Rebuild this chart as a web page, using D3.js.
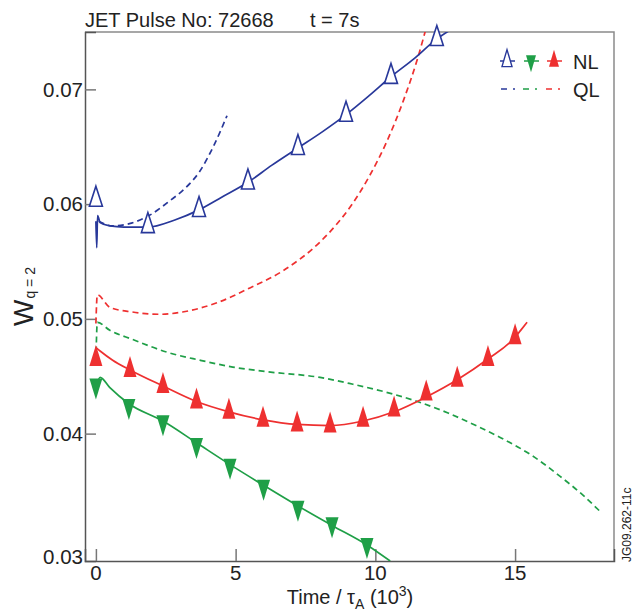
<!DOCTYPE html>
<html>
<head>
<meta charset="utf-8">
<script src="https://cdn.jsdelivr.net/npm/d3@7"></script>
<style>
  body { margin: 0; background: #fff; }
  svg { display: block; font-family: "Liberation Sans", Arial, sans-serif; }
</style>
</head>
<body>
<svg width="637" height="615"></svg>
<script>
// data: [time (10^3 tau_A), W_q=2]
var blueNL = [[0.0, 0.0585], [0.03, 0.0562], [0.06, 0.0590], [0.15, 0.0584], [0.5, 0.0581], [1.0, 0.0580],
  [1.86, 0.0580], [2.8, 0.0586], [3.69, 0.0595], [4.5, 0.0606], [5.44, 0.0619], [6.3, 0.0634], [7.23, 0.0649],
  [8.1, 0.0663], [8.95, 0.0678], [9.8, 0.0695], [10.56, 0.0711], [11.4, 0.0727], [12.2, 0.0744], [12.7, 0.0752]];
var blueMarkers = [[0, 0.0604], [1.86, 0.0581], [3.69, 0.0595], [5.44, 0.0619], [7.23, 0.0649], [8.95, 0.0678], [10.56, 0.0711], [12.2, 0.0744]];
var blueQL = [[0.1, 0.0585], [0.6, 0.0581], [1.2, 0.0583], [1.9, 0.0590], [2.65, 0.0603], [3.2, 0.0614], [3.7, 0.0628], [4.2, 0.0650], [4.69, 0.0677]];

var redNL = [[0.0, 0.0475], [0.15, 0.0472], [0.6, 0.0464], [1.22, 0.04555], [2.4, 0.04415], [3.6, 0.0428], [4.76, 0.0419],
  [5.98, 0.0412], [7.2, 0.0408], [8.38, 0.0407], [9.56, 0.0411], [10.67, 0.0419], [11.82, 0.0432], [12.93, 0.0447],
  [14.03, 0.0465], [15.0, 0.0484], [15.2, 0.0490], [15.43, 0.0497]];
var redMarkers = [[0, 0.0465], [1.22, 0.04555], [2.4, 0.04415], [3.6, 0.0428], [4.76, 0.0419], [5.98, 0.0412], [7.2, 0.0408],
  [8.38, 0.0407], [9.56, 0.0412], [10.67, 0.0421], [11.82, 0.0435], [12.93, 0.0447], [14.03, 0.0465], [15.0, 0.0484]];
var redQL = [[0.0, 0.0496], [0.05, 0.0521], [0.5, 0.0510], [1.3, 0.0506], [2.3, 0.0504], [3.1, 0.0506], [4.33, 0.0514],
  [5.51, 0.0527], [6.7, 0.0542], [8.02, 0.0567], [8.6, 0.0582], [9.2, 0.0601], [9.8, 0.0625], [10.4, 0.0654],
  [11.0, 0.0690], [11.5, 0.0726], [11.9, 0.0761]];

var greenNL = [[0.0, 0.0440], [0.15, 0.0449], [0.5, 0.0440], [1.18, 0.0426], [2.4, 0.0411], [3.6, 0.0392], [4.8, 0.0373],
  [6.0, 0.0355], [7.23, 0.0337], [8.45, 0.0320], [9.7, 0.0303], [10.53, 0.0289]];
var greenMarkers = [[0, 0.0442], [1.18, 0.0424], [2.4, 0.0410], [3.6, 0.0390], [4.8, 0.0372], [6.0, 0.03536],
  [7.23, 0.03353], [8.45, 0.0321], [9.7, 0.0303]];
var greenQL = [[0.0, 0.0462], [0.05, 0.0497], [0.5, 0.0490], [1.32, 0.0482], [2.54, 0.0471], [3.72, 0.0464], [4.9, 0.0458],
  [6.1, 0.0454], [8.02, 0.0449], [9.2, 0.0443], [10.4, 0.0436], [11.5, 0.0428], [12.6, 0.0418], [13.6, 0.0407],
  [14.6, 0.0395], [15.6, 0.0381], [16.6, 0.0363], [17.4, 0.0347], [18.05, 0.0332]];

var xTicks = [0, 5, 10, 15];
var yTicks = [0.03, 0.04, 0.05, 0.06, 0.07];

var blue = "#28389a", green = "#1f9f47", red = "#ee3030";

var svg = d3.select("svg");
var pLeft = 85, pRight = 614, pTop = 32, pBottom = 561;

var x = d3.scaleLinear().domain([-0.39, 18.54]).range([pLeft, pRight]);
var y = d3.scaleLinear().domain([0.0289, 0.0750]).range([pBottom, pTop]);

// clip for the curves (markers may stick out)
svg.append("defs").append("clipPath").attr("id", "plot")
  .append("rect").attr("x", pLeft).attr("y", pTop).attr("width", pRight - pLeft).attr("height", pBottom - pTop);

// frame: top and right in light grey
svg.append("path")
  .attr("d", "M" + pLeft + "," + pTop + "H" + pRight + "V" + pBottom)
  .attr("fill", "none").attr("stroke", "#8a8a8a").attr("stroke-width", 1.5);

// axes
var yAxis = d3.axisLeft(y).tickValues(yTicks.filter(function (v) { return v > 0.035; }))
  .tickSize(-11).tickFormat("");
svg.append("g").attr("transform", "translate(" + pLeft + ",0)").call(yAxis)
  .call(function (g) {
    g.select(".domain").attr("stroke", "#555").attr("stroke-width", 1.5);
    g.selectAll(".tick line").attr("stroke", "#777").attr("stroke-width", 1.5);
  });
var xAxis = d3.axisBottom(x).tickValues(xTicks).tickSize(-12).tickFormat("");
svg.append("g").attr("transform", "translate(0," + pBottom + ")").call(xAxis)
  .call(function (g) {
    g.select(".domain").attr("stroke", "#555").attr("stroke-width", 1.5);
    g.selectAll(".tick line").attr("stroke", "#777").attr("stroke-width", 1.5);
  });

// tick labels (the lowest one sits in the corner)
svg.append("g").selectAll("text").data(yTicks).enter().append("text")
  .attr("x", pLeft - 2)
  .attr("y", function (d) { return y(d) > pBottom - 20 ? pBottom - 4 : y(d); })
  .attr("dy", "0.35em")
  .attr("text-anchor", "end")
  .attr("font-size", 20.5)
  .attr("fill", "#222")
  .text(function (d) { return d3.format(".2f")(d); });

svg.append("g").selectAll("text").data(xTicks).enter().append("text")
  .attr("x", function (d) { return x(d); })
  .attr("y", 580)
  .attr("text-anchor", "middle")
  .attr("font-size", 20.5)
  .attr("fill", "#222")
  .text(function (d) { return d; });

// title
svg.append("text").attr("x", 85).attr("y", 27).attr("font-size", 20).attr("fill", "#222")
  .text("JET Pulse No: 72668");
svg.append("text").attr("x", 310).attr("y", 27).attr("font-size", 20).attr("fill", "#222")
  .text("t = 7s");

// axis titles
var xt = svg.append("text").attr("x", 350).attr("y", 604).attr("text-anchor", "middle")
  .attr("font-size", 20).attr("fill", "#222");
xt.append("tspan").text("Time / \u03c4");
xt.append("tspan").attr("font-size", 14).attr("dy", 5).text("A");
xt.append("tspan").attr("dy", -5).text(" (10");
xt.append("tspan").attr("font-size", 14).attr("dy", -8).text("3");
xt.append("tspan").attr("dy", 8).text(")");

var yt = svg.append("text").attr("transform", "translate(33,326) rotate(-90)")
  .attr("font-size", 28).attr("fill", "#222");
yt.append("tspan").text("W");
yt.append("tspan").attr("font-size", 14).attr("dy", 2).attr("dx", 1).text("q = 2");

// job id
svg.append("text").attr("transform", "translate(631,562) rotate(-90)")
  .attr("font-size", 12).attr("fill", "#222").text("JG09.262-11c");

var line = d3.line()
  .x(function (d) { return x(d[0]); })
  .y(function (d) { return y(d[1]); })
  .curve(d3.curveMonotoneX);

var curves = svg.append("g").attr("clip-path", "url(#plot)");

// quasi-linear (dashed)
[[blueQL, blue], [redQL, red], [greenQL, green]].forEach(function (s) {
  curves.append("path").datum(s[0])
    .attr("d", line)
    .attr("fill", "none")
    .attr("stroke", s[1])
    .attr("stroke-width", 1.7)
    .attr("stroke-dasharray", "6,4");
});

// nonlinear (solid)
[[blueNL, blue], [redNL, red], [greenNL, green]].forEach(function (s) {
  curves.append("path").datum(s[0])
    .attr("d", line)
    .attr("fill", "none")
    .attr("stroke", s[1])
    .attr("stroke-width", 1.7);
});

// triangle shapes, centred on centroid
function triUp(w, h) { return "M0," + (-2 * h / 3) + "L" + (w / 2) + "," + (h / 3) + "L" + (-w / 2) + "," + (h / 3) + "Z"; }
function triDown(w, h) { return "M0," + (2 * h / 3) + "L" + (w / 2) + "," + (-h / 3) + "L" + (-w / 2) + "," + (-h / 3) + "Z"; }

svg.append("g").selectAll("path").data(greenMarkers).enter().append("path")
  .attr("transform", function (d) { return "translate(" + x(d[0]) + "," + y(d[1]) + ")"; })
  .attr("d", triDown(13, 21)).attr("fill", green);

svg.append("g").selectAll("path").data(redMarkers).enter().append("path")
  .attr("transform", function (d) { return "translate(" + x(d[0]) + "," + y(d[1]) + ")"; })
  .attr("d", triUp(13, 21)).attr("fill", red);

svg.append("g").selectAll("path").data(blueMarkers).enter().append("path")
  .attr("transform", function (d) { return "translate(" + x(d[0]) + "," + y(d[1]) + ")"; })
  .attr("d", triUp(13, 20)).attr("fill", "#fff").attr("stroke", blue).attr("stroke-width", 1.6);

// legend
var legNL = [{x: 507, c: blue, open: true, up: true}, {x: 531, c: green, up: false}, {x: 554, c: red, up: true}];
var lg = svg.append("g");
legNL.forEach(function (d) {
  lg.append("line").attr("x1", d.x - 7).attr("x2", d.x + 8).attr("y1", 61).attr("y2", 61)
    .attr("stroke", d.c).attr("stroke-width", 1.5);
  lg.append("path").attr("transform", "translate(" + d.x + ",61)")
    .attr("d", d.up ? triUp(10, 17) : triDown(10, 17))
    .attr("fill", d.open ? "#fff" : d.c)
    .attr("stroke", d.open ? d.c : "none").attr("stroke-width", 1.4);
});
lg.append("text").attr("x", 573).attr("y", 69).attr("font-size", 20).attr("fill", "#222").text("NL");

var legQL = [{x: 501, c: blue}, {x: 523, c: green}, {x: 546, c: red}];
legQL.forEach(function (d) {
  lg.append("line").attr("x1", d.x).attr("x2", d.x + 17).attr("y1", 89).attr("y2", 89)
    .attr("stroke", d.c).attr("stroke-width", 1.5).attr("stroke-dasharray", "6,6,2,20");
});
lg.append("text").attr("x", 573).attr("y", 97).attr("font-size", 20).attr("fill", "#222").text("QL");
</script>
</body>
</html>
